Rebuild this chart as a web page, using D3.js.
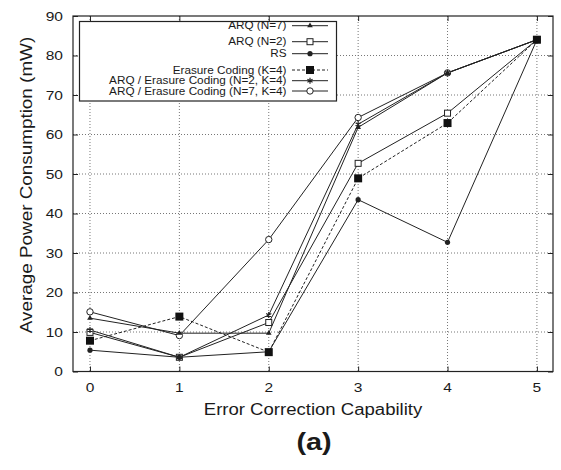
<!DOCTYPE html>
<html><head><meta charset="utf-8">
<script src="https://cdn.jsdelivr.net/npm/d3@7"></script>
<style>body{margin:0;background:#fff}</style>
</head><body><svg id="chart" width="561" height="470"></svg>
<script>
// Average power consumption vs. error correction capability
const capability = [0, 1, 2, 3, 4, 5];
const arqN7      = [13.5, 9.7, 9.7, 61.8, 75.6, 84.0];
const arqN2      = [9.9, 3.6, 12.4, 52.7, 65.4, 84.0];
const rs         = [5.4, 3.6, 5.0, 43.5, 32.7, 84.0];
const erasureK4  = [7.8, 13.9, 4.9, 48.9, 62.9, 84.0];
const hybridN2K4 = [10.5, 3.6, 14.3, 62.6, 75.6, 84.0];
const hybridN7K4 = [15.1, 9.1, 33.4, 64.3, 75.6, 84.0];
const seriesNames = ["ARQ (N=7)", "ARQ (N=2)", "RS", "Erasure Coding (K=4)",
  "ARQ / Erasure Coding (N=2, K=4)", "ARQ / Erasure Coding (N=7, K=4)"];
const xTicks = [0, 1, 2, 3, 4, 5];
const yTicks = [0, 10, 20, 30, 40, 50, 60, 70, 80, 90];

const series = [
  {name: seriesNames[0], values: arqN7, marker: "triangle", dash: null},
  {name: seriesNames[1], values: arqN2, marker: "openSquare", dash: null},
  {name: seriesNames[2], values: rs, marker: "dot", dash: null},
  {name: seriesNames[3], values: erasureK4, marker: "square", dash: "3,2"},
  {name: seriesNames[4], values: hybridN2K4, marker: "star", dash: null},
  {name: seriesNames[5], values: hybridN7K4, marker: "openCircle", dash: null}
];
// marker stacking: open symbols underneath, solid ones on top
const markerOrder = [5, 1, 0, 4, 2, 3];

const svg = d3.select("#chart");
const L = 73, R = 553, T = 16, B = 371.5;
const x = d3.scaleLinear().domain([-0.19, 5.18]).range([L, R]);
const y = d3.scaleLinear().domain([0, 90]).range([B, T]);
const ink = "#222";
const font = "Liberation Sans, Arial, sans-serif";

// horizontally widened text helper
function label(g, txt, px, py, size, sx, opts = {}) {
  const t = g.append("text")
    .attr("transform", `translate(${px},${py}) ${opts.rotate ? "rotate(-90)" : ""} scale(${sx},1)`)
    .attr("font-family", font).attr("font-size", size)
    .attr("text-anchor", opts.anchor || "middle")
    .attr("dominant-baseline", opts.baseline || "central")
    .attr("fill", "#1a1a1a").text(txt);
  if (opts.bold) t.attr("font-weight", "bold");
  return t;
}

// grid
const grid = svg.append("g").attr("stroke", "#777").attr("stroke-width", 1).attr("stroke-dasharray", "1,2");
grid.selectAll(".gy").data(yTicks.slice(1, -1)).join("line")
  .attr("x1", L).attr("x2", R).attr("y1", d => y(d)).attr("y2", d => y(d));
grid.selectAll(".gx").data(xTicks).join("line")
  .attr("y1", T).attr("y2", B).attr("x1", d => x(d)).attr("x2", d => x(d));

// axes with inward mirrored ticks
svg.append("g").attr("transform", `translate(${L},0)`)
  .call(d3.axisLeft(y).tickValues(yTicks).tickSizeInner(-5).tickSizeOuter(0).tickFormat(""));
svg.append("g").attr("transform", `translate(${R},0)`)
  .call(d3.axisRight(y).tickValues(yTicks).tickSizeInner(-5).tickSizeOuter(0).tickFormat(""));
svg.append("g").attr("transform", `translate(0,${B})`)
  .call(d3.axisBottom(x).tickValues(xTicks).tickSizeInner(-5).tickSizeOuter(0).tickFormat(""));
svg.append("g").attr("transform", `translate(0,${T})`)
  .call(d3.axisTop(x).tickValues(xTicks).tickSizeInner(-5).tickSizeOuter(0).tickFormat(""));
svg.selectAll(".domain").remove();
svg.selectAll(".tick line").attr("stroke", ink);

const txt = svg.append("g");
yTicks.forEach(v => label(txt, String(v), 63, y(v), 13.5, 1.15, {anchor: "end"}));
xTicks.forEach(v => label(txt, String(v), x(v), 387, 13.5, 1.15));
label(txt, "Error Correction Capability", (L + R) / 2, 409, 16, 1.16);
label(txt, "Average Power Consumption (mW)", 27, 185, 16, 1.18, {rotate: true});
label(txt, "(a)", (L + R) / 2 + 1, 442, 24, 1.2, {bold: true});

// markers
function marker(g, kind, cx, cy) {
  if (kind === "triangle") {
    g.append("path").attr("d", d3.symbol(d3.symbolTriangle, 14)())
      .attr("transform", `translate(${cx},${cy})`).attr("fill", ink);
  } else if (kind === "openSquare") {
    g.append("rect").attr("x", cx - 3).attr("y", cy - 3).attr("width", 6).attr("height", 6)
      .attr("fill", "#fff").attr("stroke", ink).attr("stroke-width", 1);
  } else if (kind === "dot") {
    g.append("circle").attr("cx", cx).attr("cy", cy).attr("r", 2.6).attr("fill", ink);
  } else if (kind === "square") {
    g.append("rect").attr("x", cx - 4).attr("y", cy - 4).attr("width", 8).attr("height", 8).attr("fill", "#111");
  } else if (kind === "star") {
    g.append("path").attr("d", d3.symbol(d3.symbolAsterisk, 24)())
      .attr("transform", `translate(${cx},${cy})`).attr("fill", "none").attr("stroke", ink).attr("stroke-width", 1.2);
  } else if (kind === "openCircle") {
    g.append("circle").attr("cx", cx).attr("cy", cy).attr("r", 3.2)
      .attr("fill", "#fff").attr("stroke", ink).attr("stroke-width", 1);
  }
}

// series lines
const line = d3.line().x((d, i) => x(capability[i])).y(d => y(d));
const plot = svg.append("g");
series.forEach(s => {
  plot.append("path").datum(s.values).attr("d", line)
    .attr("fill", "none").attr("stroke", ink).attr("stroke-width", 1)
    .attr("stroke-dasharray", s.dash);
});
markerOrder.forEach(k => {
  const s = series[k];
  const g = plot.append("g");
  s.values.forEach((v, i) => marker(g, s.marker, x(capability[i]), y(v)));
});

// frame
svg.append("rect").attr("x", L).attr("y", T).attr("width", R - L).attr("height", B - T)
  .attr("fill", "none").attr("stroke", ink).attr("stroke-width", 1.2);

// legend
const leg = svg.append("g");
leg.append("rect").attr("x", 79.5).attr("y", 21.5).attr("width", 257).attr("height", 79.5)
  .attr("fill", "#fff").attr("stroke", ink).attr("stroke-width", 1.2);
const rowY = [25.7, 41.7, 53.7, 70, 80.7, 91];
series.forEach((s, i) => {
  const ry = rowY[i];
  label(leg, s.name, 286.5, ry, 10.5, 1.12, {anchor: "end"});
  leg.append("line").attr("x1", 292).attr("x2", 328).attr("y1", ry).attr("y2", ry)
    .attr("stroke", ink).attr("stroke-width", 1).attr("stroke-dasharray", s.dash);
  marker(leg, s.marker, 310, ry);
});
</script></body></html>
